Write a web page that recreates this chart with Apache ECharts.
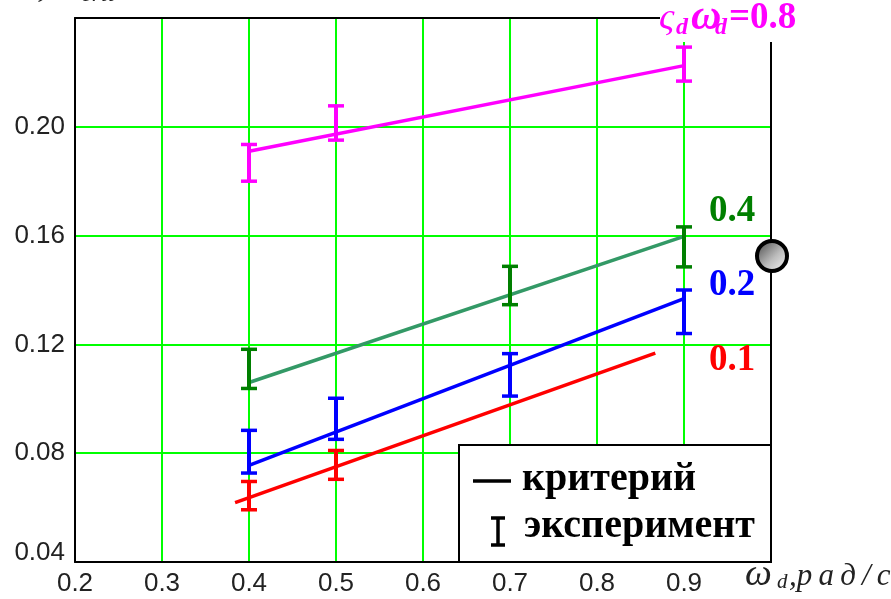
<!DOCTYPE html>
<html>
<head>
<meta charset="utf-8">
<script src="https://cdn.jsdelivr.net/npm/echarts@6/dist/echarts.min.js"></script>
<style>html,body{margin:0;padding:0;background:#fff;}#c{width:891px;height:599px;}</style>
</head>
<body>
<div id="c"></div>
<script>
// x-axis / y-axis ticks
const xTicks = [0.2, 0.3, 0.4, 0.5, 0.6, 0.7, 0.8, 0.9, 1.0];
const yTicks = [0.04, 0.08, 0.12, 0.16, 0.20, 0.24];

// criterion lines [x, y]
const critMagenta = [[0.4, 0.1910], [0.9, 0.2225]];
const critGreen   = [[0.4, 0.1060], [0.9, 0.1597]];
const critBlue    = [[0.4, 0.0755], [0.9, 0.1368]];
const critRed     = [[0.384, 0.0618], [0.867, 0.1168]];

// experiment error bars [x, low, high]
const expMagenta = [[0.4, 0.1800, 0.1935], [0.5, 0.1951, 0.2077], [0.9, 0.2168, 0.2293]];
const expGreen   = [[0.4, 0.1038, 0.1182], [0.7, 0.1346, 0.1487], [0.9, 0.1485, 0.1632]];
const expBlue    = [[0.4, 0.0727, 0.0884], [0.5, 0.0851, 0.1002], [0.7, 0.1010, 0.1166], [0.9, 0.1240, 0.1400]];
const expRed     = [[0.4, 0.0592, 0.0696], [0.5, 0.0704, 0.0810]];

const chart = echarts.init(document.getElementById('c'), null, {renderer: 'canvas'});

function errBar(color) {
  return function (params, api) {
    const x = api.value(0), lo = api.value(1), hi = api.value(2);
    const a = api.coord([x, lo]), b = api.coord([x, hi]);
    const w = 8;
    const st = {stroke: color, lineWidth: 3.5};
    return {type: 'group', children: [
      {type: 'line', shape: {x1: a[0], y1: a[1], x2: b[0], y2: b[1]}, style: {stroke: color, lineWidth: 4}},
      {type: 'line', shape: {x1: a[0] - w, y1: a[1], x2: a[0] + w, y2: a[1]}, style: st},
      {type: 'line', shape: {x1: b[0] - w, y1: b[1], x2: b[0] + w, y2: b[1]}, style: st}
    ]};
  };
}
function critLine(data, color) {
  return {type: 'line', data: data, symbol: 'none', lineStyle: {color: color, width: 3.5}, silent: true, z: 3};
}
function expSeries(data, color) {
  return {type: 'custom', data: data, renderItem: errBar(color), encode: {x: 0, y: [1, 2]}, z: 4, silent: true};
}

const labelFont = {fontSize: 26, fontFamily: 'Liberation Sans', color: '#222'};
const serif = 'Liberation Serif';

chart.setOption({
  animation: false,
  backgroundColor: '#fff',
  grid: {left: 75, right: 120, top: 18, bottom: 37, show: false},
  xAxis: [{
    type: 'value', min: xTicks[0], max: xTicks[xTicks.length - 1], interval: 0.1, position: 'bottom',
    axisLine: {show: true, onZero: false, lineStyle: {color: '#000', width: 2}},
    axisTick: {show: false},
    splitLine: {show: true, showMinLine: false, showMaxLine: false, lineStyle: {color: '#00ff00', width: 2}},
    axisLabel: Object.assign({formatter: v => v.toFixed(1), showMaxLabel: false, margin: 9}, labelFont)
  }, {
    type: 'value', min: xTicks[0], max: xTicks[xTicks.length - 1], position: 'top',
    axisLine: {show: true, onZero: false, lineStyle: {color: '#000', width: 2}},
    axisTick: {show: false}, axisLabel: {show: false}, splitLine: {show: false}
  }],
  yAxis: [{
    type: 'value', min: yTicks[0], max: yTicks[yTicks.length - 1], interval: 0.04, position: 'left',
    axisLine: {show: true, onZero: false, lineStyle: {color: '#000', width: 2}},
    axisTick: {show: false},
    splitLine: {show: true, showMinLine: false, showMaxLine: false, lineStyle: {color: '#00ff00', width: 2}},
    axisLabel: Object.assign({
      showMaxLabel: false, margin: 10,
      formatter: v => Math.abs(v - yTicks[0]) < 1e-6 ? '{lo|' + v.toFixed(2) + '}' : v.toFixed(2),
      rich: {lo: Object.assign({padding: [0, 0, 18, 0]}, labelFont)}
    }, labelFont)
  }, {
    type: 'value', min: yTicks[0], max: yTicks[yTicks.length - 1], position: 'right',
    axisLine: {show: true, onZero: false, lineStyle: {color: '#000', width: 2}},
    axisTick: {show: false}, axisLabel: {show: false}, splitLine: {show: false}
  }],
  series: [
    critLine(critMagenta, '#ff00ff'),
    critLine(critGreen, '#339966'),
    critLine(critBlue, '#0000ff'),
    critLine(critRed, '#ff0000'),
    expSeries(expMagenta, '#ff00ff'),
    expSeries(expGreen, '#007f00'),
    expSeries(expBlue, '#0000ff'),
    expSeries(expRed, '#ff0000')
  ],
  graphic: [
    // white patch over top-right frame corner behind label
    {type: 'rect', shape: {x: 660, y: 0, width: 231, height: 42}, style: {fill: '#fff'}, z: 100},
    {type: 'text', left: 659, top: 0, z: 101, style: {text: 'ς', font: 'italic 38px ' + serif, fill: '#ff00ff'}},
    {type: 'text', left: 676, top: 16, z: 101, style: {text: 'd', font: 'bold italic 24px ' + serif, fill: '#ff00ff'}},
    {type: 'text', left: 691, top: -3, z: 101, style: {text: 'ω', font: 'bold italic 42px ' + serif, fill: '#ff00ff'}},
    {type: 'text', left: 715, top: 16, z: 101, style: {text: 'd', font: 'bold italic 24px ' + serif, fill: '#ff00ff'}},
    {type: 'text', left: 729, top: 0, z: 101, style: {text: '=0.8', font: 'bold 37px ' + serif, fill: '#ff00ff'}},
    // curve labels
    {type: 'text', left: 709, top: 193, z: 101, style: {text: '0.4', font: 'bold 37px ' + serif, fill: '#007f00'}},
    {type: 'text', left: 709, top: 267, z: 101, style: {text: '0.2', font: 'bold 37px ' + serif, fill: '#0000ff'}},
    {type: 'text', left: 709, top: 342, z: 101, style: {text: '0.1', font: 'bold 37px ' + serif, fill: '#ff0000'}},
    // cut-off y label at top-left
    {type: 'text', left: 32, top: -30, z: 101, style: {text: 'ς', font: 'italic 34px ' + serif, fill: '#222'}},
    {type: 'text', left: 81, top: -17, z: 101, style: {text: 'crit', font: 'italic 24px ' + serif, fill: '#222'}},
    // x axis title
    {type: 'text', left: 745, top: 556, z: 101, style: {text: 'ω', font: 'italic 38px ' + serif, fill: '#222'}},
    {type: 'text', left: 777, top: 572, z: 101, style: {text: 'd', font: 'italic 21px ' + serif, fill: '#222'}},
    {type: 'text', left: 789, top: 561, z: 101, style: {text: ',р\u2009а\u2009д\u2009/\u2009с', font: 'italic 31px ' + serif, fill: '#222'}},
    // legend box
    {type: 'rect', shape: {x: 459, y: 445, width: 312, height: 117}, style: {fill: '#fff', stroke: '#000', lineWidth: 2}, z: 100},
    {type: 'line', shape: {x1: 473, y1: 481, x2: 511, y2: 481}, style: {stroke: '#000', lineWidth: 3.5}, z: 101},
    {type: 'line', shape: {x1: 498, y1: 518, x2: 498, y2: 545}, style: {stroke: '#000', lineWidth: 3.5}, z: 101},
    {type: 'line', shape: {x1: 491, y1: 518, x2: 505, y2: 518}, style: {stroke: '#000', lineWidth: 3.5}, z: 101},
    {type: 'line', shape: {x1: 491, y1: 545, x2: 505, y2: 545}, style: {stroke: '#000', lineWidth: 3.5}, z: 101},
    {type: 'text', left: 522, top: 460, z: 101, style: {text: 'критерий', font: 'bold 40px ' + serif, fill: '#000'}},
    {type: 'text', left: 524, top: 507, z: 101, style: {text: 'эксперимент', font: 'bold 40px ' + serif, fill: '#000'}},
    // trace marker sphere
    {type: 'circle', shape: {cx: 772, cy: 256, r: 15}, z: 102,
      style: {stroke: '#000', lineWidth: 4,
        fill: new echarts.graphic.LinearGradient(0, 0, 1, 1, [{offset: 0, color: '#3a3a3a'}, {offset: 0.55, color: '#bbbbbb'}, {offset: 1, color: '#ffffff'}])}}
  ]
});
</script>
</body>
</html>
